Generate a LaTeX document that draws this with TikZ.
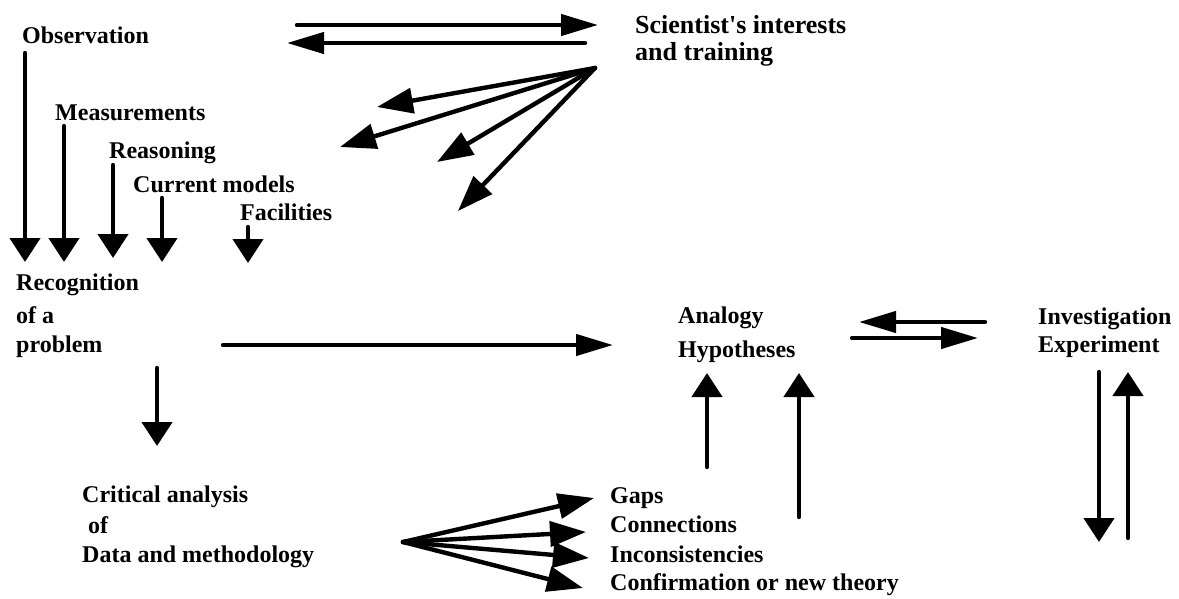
\documentclass[tikz,border=0pt]{standalone}
\usepackage{fontspec}
\setmainfont{Liberation Serif}
\usetikzlibrary{arrows.meta}
\begin{document}
\begin{tikzpicture}[x=1pt,y=-1pt,
  lbl/.style={font=\bfseries\fontsize{24}{30}\selectfont, anchor=base west, inner sep=0pt},
  biglbl/.style={font=\bfseries\fontsize{26}{28}\selectfont, anchor=base west, inner sep=0pt},
  harr/.style={line width=4.4pt, line cap=round, -{Triangle[length=37pt,width=21pt]}},
  farr/.style={line width=4.4pt, line cap=round, -{Triangle[length=36pt,width=25pt]}},
  varr/.style={line width=4.4pt, line cap=round, -{Triangle[length=24pt,width=30pt]}},
]
\useasboundingbox (0,0) rectangle (1179,598);

% texts
\node[lbl] (obs) at (22,43) {Observation};
\node[lbl] (meas) at (55,120) {Measurements};
\node[lbl] (reas) at (109,158) {Reasoning};
\node[lbl] (curr) at (133,192) {Current models};
\node[lbl] (fac) at (240,220) {Facilities};
\node[lbl] (rec1) at (16,290) {Recognition};
\node[lbl] (rec2) at (16,323) {of a};
\node[lbl] (rec3) at (16,352) {problem};
\node[lbl] (crit1) at (82,502) {Critical analysis};
\node[lbl] (crit2) at (88,533) {of};
\node[lbl] (crit3) at (82,562) {Data and methodology};
\node[lbl] (gaps) at (610,503) {Gaps};
\node[lbl] (conn) at (610,532) {Connections};
\node[lbl] (inc) at (610,562) {Inconsistencies};
\node[lbl] (conf) at (610,590) {Confirmation or new theory};
\node[lbl] (ana) at (678,323) {Analogy};
\node[lbl] (hyp) at (678,357) {Hypotheses};
\node[lbl] (inv) at (1038,324) {Investigation};
\node[lbl] (exp) at (1038,352) {Experiment};
\node[biglbl] (sci1) at (635,33) {Scientist\textquotesingle s interests};
\node[biglbl] (sci2) at (635,60) {and training};

% arrow end points
\coordinate (t1a) at (297,25);  \coordinate (t1b) at (598,25);
\coordinate (t2a) at (585,43);  \coordinate (t2b) at (287,43);
\coordinate (fo) at (595,68);
\coordinate (f1) at (377,107); \coordinate (f2) at (340,147);
\coordinate (f3) at (437,162); \coordinate (f4) at (458,211);
\coordinate (d1a) at (25,53);   \coordinate (d1b) at (25,262);
\coordinate (d2a) at (64,126);  \coordinate (d2b) at (64,262);
\coordinate (d3a) at (113,165); \coordinate (d3b) at (113,258);
\coordinate (d4a) at (162,198); \coordinate (d4b) at (162,262);
\coordinate (d5a) at (248,227); \coordinate (d5b) at (248,263);
\coordinate (ha) at (223,345);  \coordinate (hb) at (613,345);
\coordinate (ca) at (157,368);  \coordinate (cb) at (157,446);
\coordinate (u1a) at (707,467); \coordinate (u1b) at (707,373);
\coordinate (u2a) at (799,517); \coordinate (u2b) at (799,373);
\coordinate (ia) at (985,322);  \coordinate (ib) at (859,322);
\coordinate (ja) at (852,338);  \coordinate (jb) at (978,338);
\coordinate (ea) at (1099,372); \coordinate (eb) at (1099,542);
\coordinate (ga) at (1128,538); \coordinate (gb) at (1128,372);
\coordinate (bo) at (403,542);
\coordinate (b1) at (594,498); \coordinate (b2) at (586,532);
\coordinate (b3) at (589,558); \coordinate (b4) at (583,588);

% connectors
\draw[harr] (t1a) -- (t1b);
\draw[harr] (t2a) -- (t2b);
\foreach \p in {f1,f2,f3,f4} \draw[farr] (fo) -- (\p);
\draw[varr] (d1a) -- (d1b);
\draw[varr] (d2a) -- (d2b);
\draw[varr] (d3a) -- (d3b);
\draw[varr] (d4a) -- (d4b);
\draw[varr] (d5a) -- (d5b);
\draw[harr] (ha) -- (hb);
\draw[varr] (ca) -- (cb);
\draw[varr] (u1a) -- (u1b);
\draw[varr] (u2a) -- (u2b);
\draw[harr] (ia) -- (ib);
\draw[harr] (ja) -- (jb);
\draw[varr] (ea) -- (eb);
\draw[varr] (ga) -- (gb);
\foreach \p in {b1,b2,b3,b4} \draw[farr] (bo) -- (\p);
\end{tikzpicture}
\end{document}
